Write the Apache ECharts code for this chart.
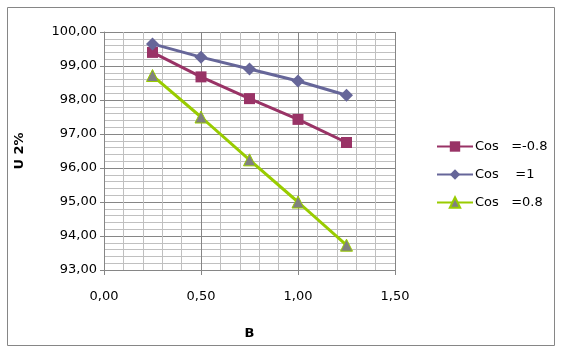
<!DOCTYPE html>
<html>
<head>
<meta charset="utf-8" />
<title>U2% vs B</title>
<script src="https://cdn.jsdelivr.net/npm/echarts@6/dist/echarts.min.js"></script>
<style>
  * { margin: 0; padding: 0; }
  #chart-container { width: 562px; height: 352px; background: #fff; }
</style>
</head>
<body>
<div id="chart-container"></div>
<script>
  // data
  var xValues = [0.25, 0.5, 0.75, 1.0, 1.25];
  var seriesNames = ["Cos   =-0.8", "Cos    =1", "Cos   =0.8"];
  var cosMinus08 = [99.40, 98.68, 98.04, 97.43, 96.75];
  var cos1 = [99.65, 99.26, 98.91, 98.56, 98.14];
  var cos08 = [98.72, 97.50, 96.24, 95.00, 93.73];

  function pairs(ys) {
    var out = [];
    for (let i = 0; i < xValues.length; i++) out.push([xValues[i], ys[i]]);
    return out;
  }
  function comma(v) { return v.toFixed(2).replace(".", ","); }

  var font = "DejaVu Sans";
  var dom = document.getElementById("chart-container");
  var myChart = echarts.init(dom, null, { renderer: "canvas" });

  var option = {
    animation: false,
    textStyle: { fontFamily: font },
    graphic: [{
      type: "rect",
      shape: { x: 7.5, y: 7.5, width: 547, height: 338 },
      style: { fill: "none", stroke: "#868686", lineWidth: 1 }
    }],
    grid: { left: 104, top: 32, right: 167, bottom: 82 },
    legend: {
      orient: "vertical",
      left: 436,
      top: 140,
      padding: 0,
      itemWidth: 36,
      itemHeight: 13,
      itemGap: 15,
      data: seriesNames,
      textStyle: { fontFamily: font, fontSize: 13, color: "#000", padding: [0, 0, 0, -3] }
    },
    xAxis: {
      type: "value",
      min: 0, max: 1.5, interval: 0.5,
      name: "B",
      nameLocation: "middle",
      nameGap: 57,
      nameTextStyle: { fontWeight: "bold", fontSize: 13, color: "#000" },
      axisLine: { show: true, lineStyle: { color: "#868686" } },
      axisTick: { show: true, length: 5, lineStyle: { color: "#868686" } },
      axisLabel: { margin: 20, fontSize: 13, color: "#000", formatter: comma },
      splitLine: { show: true, lineStyle: { color: "#868686" } },
      minorTick: { show: false, splitNumber: 5 },
      minorSplitLine: { show: true, lineStyle: { color: "#c0c0c0" } }
    },
    yAxis: {
      type: "value",
      min: 93, max: 100, interval: 1,
      name: "U 2%",
      nameLocation: "middle",
      nameGap: 78,
      nameTextStyle: { fontWeight: "bold", fontSize: 13, color: "#000" },
      axisLine: { show: true, lineStyle: { color: "#868686" } },
      axisTick: { show: true, length: 4, lineStyle: { color: "#868686" } },
      axisLabel: { margin: 7, fontSize: 13, color: "#000", formatter: comma },
      splitLine: { show: true, lineStyle: { color: "#868686" } },
      minorTick: { show: false, splitNumber: 5 },
      minorSplitLine: { show: true, lineStyle: { color: "#c0c0c0" } }
    },
    series: [
      {
        name: seriesNames[0], type: "line", data: pairs(cosMinus08),
        symbol: "rect", symbolSize: 11,
        lineStyle: { color: "#993366", width: 3 },
        itemStyle: { color: "#993366" }
      },
      {
        name: seriesNames[1], type: "line", data: pairs(cos1),
        symbol: "diamond", symbolSize: 13,
        lineStyle: { color: "#666699", width: 3 },
        itemStyle: { color: "#666699" }
      },
      {
        name: seriesNames[2], type: "line", data: pairs(cos08),
        symbol: "triangle", symbolSize: 12,
        lineStyle: { color: "#99cc00", width: 3 },
        itemStyle: { color: "#808080", borderColor: "#99cc00", borderWidth: 1 }
      }
    ]
  };

  myChart.setOption(option);
  window.addEventListener("resize", myChart.resize);
</script>
</body>
</html>
